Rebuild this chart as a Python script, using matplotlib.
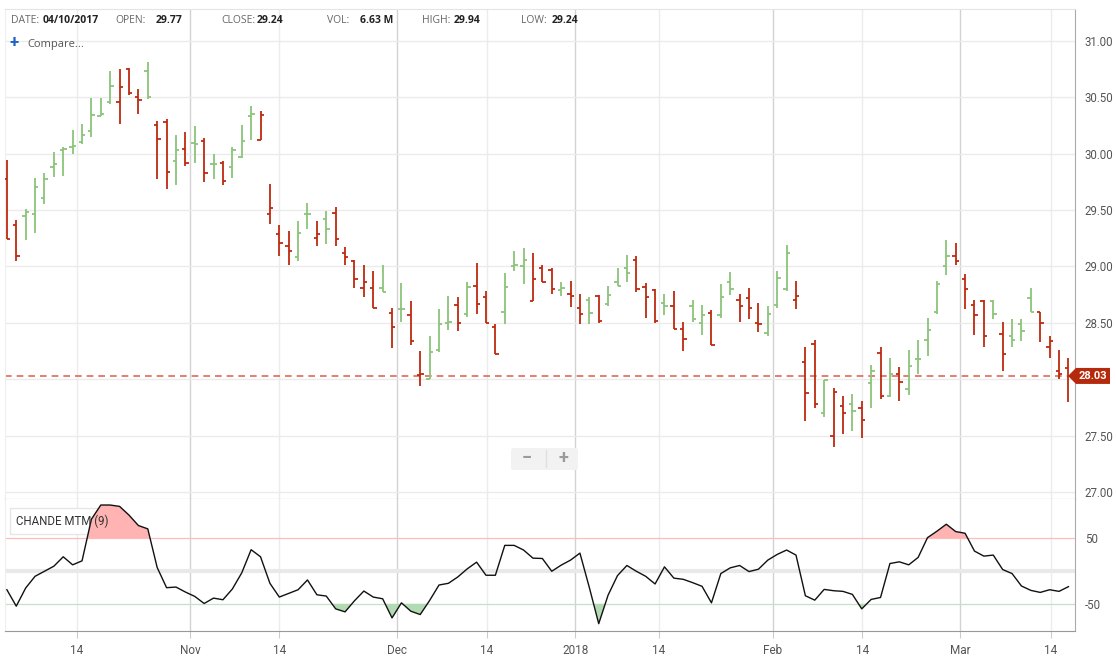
import numpy as np
import matplotlib
matplotlib.use('Agg')
from matplotlib import pyplot as plt
from matplotlib.patches import Polygon, FancyBboxPatch
from matplotlib.transforms import IdentityTransform

plt.rcParams['font.family'] = ['Roboto', 'DejaVu Sans']

# 每日 OHLC（按交易日序号）
opens = [29.77, 29.37, 29.45, 29.46, 29.61, 29.88, 30.03, 30.06, 30.10, 30.20,
         30.33, 30.46, 30.46, 30.75, 30.50, 30.73, 30.25, 30.28, 29.93, 30.04,
         30.09, 30.11, 29.91, 29.92, 29.88, 29.97, 30.33, 30.12, 29.46, 29.29,
         29.18, 29.08, 29.46, 29.25, 29.42, 29.47, 29.12, 29.05, 28.81, 28.81,
         28.81, 28.59, 28.62, 28.57, 28.04, 28.00, 28.26, 28.50, 28.66, 28.58,
         28.83, 28.73, 28.46, 28.60, 29.00, 29.00, 28.69, 28.99, 28.97, 28.79,
         28.76, 28.63, 28.70, 28.74, 28.67, 28.86, 28.99, 29.06, 28.82, 28.79,
         28.68, 28.65, 28.45, 28.65, 28.50, 28.59, 28.57, 28.86, 28.70, 28.72,
         28.50, 28.41, 28.66, 28.80, 28.70, 28.15, 28.31, 27.70, 27.50, 27.76,
         27.78, 27.75, 27.97, 28.23, 27.85, 28.05, 27.91, 28.18, 28.35, 28.60,
         29.00, 29.09, 28.89, 28.66, 28.69, 28.69, 28.40, 28.38, 28.49, 28.72,
         28.60, 28.29, 28.07, 28.10]
highs = [29.94, 29.41, 29.51, 29.78, 29.83, 30.01, 30.06, 30.21, 30.26, 30.49,
         30.49, 30.73, 30.75, 30.76, 30.57, 30.81, 30.29, 30.31, 30.16, 30.19,
         30.24, 30.14, 30.00, 29.93, 30.06, 30.25, 30.42, 30.38, 29.73, 29.37,
         29.31, 29.40, 29.56, 29.40, 29.49, 29.53, 29.17, 29.06, 29.01, 28.96,
         29.01, 28.63, 28.85, 28.69, 28.25, 28.38, 28.62, 28.74, 28.73, 28.86,
         29.03, 28.78, 28.49, 28.94, 29.14, 29.16, 29.12, 29.01, 28.99, 28.86,
         28.87, 28.76, 28.73, 28.75, 28.83, 28.99, 29.10, 29.09, 28.85, 28.80,
         28.76, 28.78, 28.51, 28.70, 28.66, 28.61, 28.84, 28.95, 28.76, 28.81,
         28.68, 28.65, 28.96, 29.19, 28.87, 28.29, 28.35, 27.99, 27.92, 27.85,
         27.87, 27.81, 28.13, 28.29, 28.19, 28.11, 28.26, 28.35, 28.54, 28.87,
         29.23, 29.21, 28.93, 28.70, 28.70, 28.70, 28.51, 28.53, 28.53, 28.81,
         28.60, 28.38, 28.26, 28.19]
lows = [29.24, 29.05, 29.23, 29.30, 29.55, 29.79, 29.80, 30.00, 30.08, 30.15,
        30.33, 30.44, 30.26, 30.52, 30.35, 30.48, 29.77, 29.69, 29.72, 29.89,
        29.92, 29.75, 29.77, 29.72, 29.78, 29.96, 30.12, 30.12, 29.38, 29.09,
        29.01, 29.05, 29.33, 29.18, 29.20, 29.18, 29.01, 28.81, 28.73, 28.63,
        28.77, 28.28, 28.51, 28.30, 27.94, 28.00, 28.24, 28.44, 28.43, 28.55,
        28.58, 28.50, 28.22, 28.49, 28.96, 28.84, 28.69, 28.86, 28.76, 28.74,
        28.64, 28.49, 28.49, 28.50, 28.65, 28.83, 28.86, 28.77, 28.54, 28.50,
        28.57, 28.45, 28.25, 28.51, 28.39, 28.30, 28.54, 28.75, 28.51, 28.53,
        28.42, 28.38, 28.63, 28.78, 28.62, 27.63, 27.75, 27.67, 27.40, 27.52,
        27.54, 27.48, 27.75, 27.83, 27.84, 27.81, 27.86, 28.05, 28.21, 28.58,
        28.92, 29.01, 28.62, 28.39, 28.29, 28.53, 28.07, 28.29, 28.34, 28.60,
        28.33, 28.19, 28.00, 27.80]
closes = [29.24, 29.09, 29.48, 29.70, 29.77, 29.91, 30.04, 30.07, 30.16, 30.34,
          30.35, 30.60, 30.59, 30.54, 30.47, 30.50, 30.13, 29.84, 30.03, 29.92,
          30.08, 29.83, 29.91, 29.76, 30.03, 30.11, 30.35, 30.34, 29.52, 29.21,
          29.14, 29.30, 29.46, 29.29, 29.33, 29.24, 29.08, 28.89, 28.86, 28.63,
          28.77, 28.46, 28.62, 28.34, 28.05, 28.24, 28.49, 28.51, 28.50, 28.82,
          28.67, 28.50, 28.22, 28.82, 29.01, 29.06, 28.89, 28.86, 28.80, 28.81,
          28.74, 28.58, 28.59, 28.52, 28.75, 28.83, 28.94, 28.80, 28.73, 28.52,
          28.65, 28.45, 28.36, 28.53, 28.57, 28.30, 28.73, 28.80, 28.65, 28.63,
          28.49, 28.58, 28.90, 29.12, 28.74, 27.88, 27.78, 27.99, 27.89, 27.70,
          27.72, 27.64, 28.07, 27.85, 28.05, 27.98, 28.12, 28.18, 28.44, 28.84,
          29.09, 29.05, 28.80, 28.57, 28.38, 28.58, 28.22, 28.35, 28.43, 28.60,
          28.50, 28.34, 28.05, 28.03]

# Chande MTM (9)
cmo = [-28.5, -53.6, -25.9, -8.0, -0.3, 7.4, 21.8, 9.5, 15.6, 79.2,
       100.8, 100.8, 98.7, 85.4, 69.5, 64.4, 5.4, -25.4, -24.4, -32.0,
       -38.7, -49.5, -41.3, -43.8, -27.4, -2.8, 32.6, 21.8, -18.7, -39.7,
       -34.1, -28.5, -13.6, -36.2, -38.2, -57.7, -62.3, -45.4, -30.5, -39.7,
       -42.3, -71.5, -48.5, -61.3, -66.4, -44.9, -21.3, -18.7, -9.0, 3.3,
       13.6, -6.4, -6.4, 39.2, 39.2, 32.1, 19.7, 19.2, -0.3, 9.0,
       16.7, 27.4, -25.0, -80.3, -36.7, -6.9, 8.5, -0.3, -8.0, -19.7,
       6.4, -10.8, -12.6, -17.7, -23.3, -48.5, -3.8, 4.9, 8.5, -0.8,
       2.8, 16.7, 25.4, 32.1, 24.4, -37.7, -44.4, -28.0, -30.0, -31.0,
       -35.6, -57.7, -43.3, -40.3, 11.5, 14.1, 9.5, 20.8, 51.0, 60.8,
       71.5, 60.3, 57.7, 30.5, 22.8, 24.4, 2.3, -3.8, -22.8, -29.5,
       -32.6, -28.5, -31.0, -23.8]

month_ticks = [19.5, 41.5, 60.5, 81.5, 101.5]
month_labels = ['Nov', 'Dec', '2018', 'Feb', 'Mar']
mid_ticks = [7.45, 29.0, 51.1, 69.4, 91.05, 111.1]
mid_labels = ['14', '14', '14', '14', '14', '14']
price_ticks = [27.0, 27.5, 28.0, 28.5, 29.0, 29.5, 30.0, 30.5, 31.0]
# 28.00 被最新价格标签遮住
price_labels = ['27.00', '27.50', '', '28.50', '29.00', '29.50', '30.00', '30.50', '31.00']
cmo_ticks = [50, -50]
header_keys = ['DATE:', 'OPEN:', 'CLOSE:', 'VOL:', 'HIGH:', 'LOW:']
header_vals = ['04/10/2017', '29.77', '29.24', '6.63 M', '29.94', '29.24']

W, H = 1116, 666
RED = '#bd2a0e'
GREEN = '#8cc47a'


def rect(x0, y0, x1, y1):
    return [x0 / W, 1 - y1 / H, (x1 - x0) / W, (y1 - y0) / H]


fig = plt.figure(figsize=(W / 100, H / 100), dpi=100)
ax = fig.add_axes(rect(5, 9, 1075, 499))
ax2 = fig.add_axes(rect(5, 499, 1075, 631), sharex=ax)

x = np.arange(len(closes))
c = np.array(closes)
prev = np.r_[np.inf, c[:-1]]
cols = np.where(c > prev, GREEN, RED)

# 垂直网格线
for a in (ax, ax2):
    for t in mid_ticks:
        a.axvline(t, color='#ececec', lw=1, zorder=0)
    for t in month_ticks:
        a.axvline(t, color='#d2d2d2', lw=1, zorder=0)

# OHLC 柱
ax.vlines(x, lows, highs, colors=cols, lw=1.3, zorder=3)
ax.hlines(opens, x - 0.36, x, colors=cols, lw=1.3, zorder=3)
ax.hlines(closes, x, x + 0.36, colors=cols, lw=1.3, zorder=3)
ax.axhline(closes[-1], color='#dd6a58', lw=1.2, ls=(0, (4, 3)), zorder=2)

ax.set_xlim(-0.2, 113.7)
ax.set_ylim(26.94, 31.28)
ax.set_yticks(price_ticks)
ax.set_yticklabels(price_labels)
ax.yaxis.tick_right()
ax.yaxis.grid(True, color='#ebebeb', lw=1, zorder=0)
ax.tick_params(axis='y', length=0, pad=7, labelsize=8.3, labelcolor='#555555')
ax.tick_params(axis='x', bottom=False, labelbottom=False)
ax.spines['top'].set_color('#e4e4e4')
ax.spines['left'].set_color('#eeeeee')
ax.spines['right'].set_color('#aaaaaa')
ax.spines['bottom'].set_color('#8a8a8a')

# 振荡器
cm = np.array(cmo)
ax2.axhline(0, color='#e9e9e9', lw=3, zorder=0)
ax2.axhline(50, color='#ffbcbc', lw=0.9, zorder=1)
ax2.axhline(-50, color='#c6e2c6', lw=0.9, zorder=1)
ax2.fill_between(x, cm, 50, where=cm > 50, interpolate=True, color='#ffb3b3', lw=0, zorder=3)
ax2.fill_between(x, cm, -50, where=cm < -50, interpolate=True, color='#b3dbb3', lw=0, zorder=3)
ax2.plot(x, cm, color='#111111', lw=1, zorder=4)
ax2.set_ylim(-91.5, 110)
ax2.set_yticks(cmo_ticks)
ax2.set_yticklabels(['50', '-50'])
ax2.yaxis.tick_right()
ax2.tick_params(axis='y', length=0, pad=7, labelsize=8.3, labelcolor='#555555')
ax2.set_xticks(mid_ticks + month_ticks)
ax2.set_xticklabels(mid_labels + month_labels)
ax2.tick_params(axis='x', length=5, color='#cccccc', pad=4, labelsize=8.5, labelcolor='#555555')
ax2.spines['top'].set_visible(False)
ax2.spines['left'].set_color('#eeeeee')
ax2.spines['right'].set_color('#aaaaaa')
ax2.spines['bottom'].set_color('#999999')

# 指标名称框：底框在填充下面，文字在上面
ax2.text(0.0105, 0.83, 'CHANDE MTM (9)', transform=ax2.transAxes, fontsize=8.3,
         color=(0, 0, 0, 0), va='center', ha='left', zorder=2,
         bbox=dict(boxstyle='square,pad=0.55', fc='white', ec='#e6e6e6', lw=1))
ax2.text(0.0105, 0.83, 'CHANDE MTM (9)', transform=ax2.transAxes, fontsize=8.3,
         color='#333333', va='center', ha='left', zorder=5)

# 头部信息
key_x = [11, 115, 221, 327, 422, 521]
val_x = [43, 156, 257, 360, 454, 552]
for k, v, kx, vx in zip(header_keys, header_vals, key_x, val_x):
    fig.text(kx / W, 1 - 20.5 / H, k, fontsize=7.5, color='#666666', va='center',
             family=['Open Sans', 'DejaVu Sans'])
    fig.text(vx / W, 1 - 20.5 / H, v, fontsize=7.5, color='#222222', va='center',
             fontweight='bold', family=['Open Sans', 'DejaVu Sans'])
fig.text(10 / W, 1 - 43 / H, '+', fontsize=12, color='#1e63c4', va='center',
         fontweight='bold')
fig.text(27 / W, 1 - 44 / H, 'Compare...', fontsize=8, color='#555555', va='center',
         family=['Open Sans', 'DejaVu Sans'])

# 缩放按钮
fig.patches.append(FancyBboxPatch((511 / W, 1 - 470 / H), 67 / W, 22 / H,
                                  boxstyle='round,pad=0,rounding_size=0.003',
                                  transform=fig.transFigure, fc='#f2f2f2', ec='none'))
fig.lines.append(plt.Line2D([546 / W, 546 / W], [1 - 467 / H, 1 - 450 / H],
                            transform=fig.transFigure, color='#e0e0e0', lw=1))
fig.text(527 / W, 1 - 458 / H, '\u2212', fontsize=13, color='#9a9a9a', ha='center',
         va='center', fontweight='bold')
fig.text(563 / W, 1 - 458 / H, '+', fontsize=13, color='#9a9a9a', ha='center',
         va='center', fontweight='bold')

# 最新价格标签
yd = ax.transData.transform((0, closes[-1]))[1]
xr = ax.transAxes.transform((1, 0))[0]
tag = Polygon([(xr - 7, yd), (xr + 1, yd + 8), (xr + 35, yd + 8), (xr + 35, yd - 8),
               (xr + 1, yd - 8)], closed=True, transform=IdentityTransform(),
              fc='#b5290c', ec='none', zorder=10)
fig.patches.append(tag)
fig.text((xr + 18) / W, yd / H, '%.2f' % closes[-1], fontsize=8, color='white',
         fontweight='bold', ha='center', va='center', zorder=11)

fig.savefig('out.png', dpi=100)
